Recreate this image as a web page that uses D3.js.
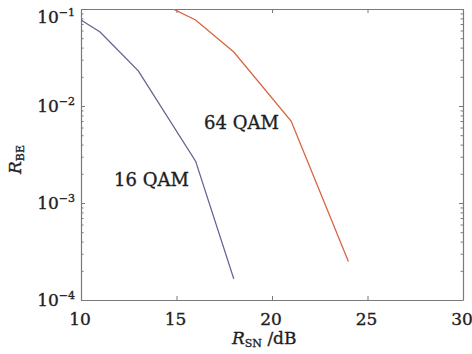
<!DOCTYPE html>
<html>
<head>
<meta charset="utf-8">
<script src="https://cdn.jsdelivr.net/npm/d3@7"></script>
<style>
  html, body { margin: 0; padding: 0; background: #fff; }
  svg { display: block; }
  text { font-family: "DejaVu Serif", "Liberation Serif", serif; fill: #1e1e1e; stroke: #1e1e1e; stroke-width: 0.35px; }
</style>
</head>
<body>
<svg id="chart" width="472" height="354"></svg>
<script>
// ---- data ----
const snr16 = [10, 11, 13, 16, 18];
const ber16 = [0.077, 0.058, 0.023, 0.0027, 0.000165];
const snr64 = [14, 16, 18, 21, 24];
const ber64 = [0.12, 0.077, 0.036, 0.007, 0.00025];
const seriesNames = ["16 QAM", "64 QAM"];
const xTicks = [10, 15, 20, 25, 30];
const yTickExps = [-1, -2, -3, -4];

// ---- layout ----
const svg = d3.select("#chart");
const L = 81, R = 463, T = 9, B = 300;
const x = d3.scaleLinear().domain([10, 30]).range([L, R]);
const y = d3.scaleLog().domain([1e-4, 1e-1]).range([B, T]);

const axisColor = "#7a7a7a";

// minor ticks values
const minor = [];
for (let e = -4; e < -1; e++) {
  for (let m = 2; m <= 9; m++) minor.push(m * Math.pow(10, e));
}
const major = yTickExps.map(e => Math.pow(10, e));

function styleAxis(g) {
  g.selectAll("path").attr("stroke", axisColor).attr("stroke-width", 1.2);
  g.selectAll("line").attr("stroke", axisColor).attr("stroke-width", 1);
  g.selectAll("text").remove();
}

// bottom / top
svg.append("g").attr("transform", `translate(0,${B})`)
  .call(d3.axisBottom(x).tickValues(xTicks).tickSize(-4).tickSizeOuter(0).tickFormat(""))
  .call(styleAxis);
svg.append("g").attr("transform", `translate(0,${T})`)
  .call(d3.axisTop(x).tickValues(xTicks).tickSize(-4).tickSizeOuter(0).tickFormat(""))
  .call(styleAxis);
// left / right major
svg.append("g").attr("transform", `translate(${L},0)`)
  .call(d3.axisLeft(y).tickValues(major).tickSize(-4).tickSizeOuter(0).tickFormat(""))
  .call(styleAxis);
svg.append("g").attr("transform", `translate(${R},0)`)
  .call(d3.axisRight(y).tickValues(major).tickSize(-4).tickSizeOuter(0).tickFormat(""))
  .call(styleAxis);
// minor
svg.append("g").attr("transform", `translate(${L},0)`)
  .call(d3.axisLeft(y).tickValues(minor).tickSize(-2.5).tickSizeOuter(0).tickFormat(""))
  .call(styleAxis).select("path").remove();
svg.append("g").attr("transform", `translate(${R},0)`)
  .call(d3.axisRight(y).tickValues(minor).tickSize(-2.5).tickSizeOuter(0).tickFormat(""))
  .call(styleAxis).select("path").remove();

// x tick labels
svg.append("g").selectAll("text").data(xTicks).join("text")
  .attr("x", d => x(d) - 1)
  .attr("y", B + 25)
  .attr("text-anchor", "middle")
  .attr("font-size", 17)
  .text(d => d);

// y tick labels
const yl = svg.append("g").selectAll("text").data(yTickExps).join("text")
  .attr("x", L - 6)
  .attr("y", (d, i) => y(Math.pow(10, d)) + (i === 0 ? 14 : 6))
  .attr("text-anchor", "end")
  .attr("font-size", 17);
yl.append("tspan").text("10");
yl.append("tspan").attr("font-size", 11).attr("dy", -7).text(d => "\u2212" + (-d));

// clip
svg.append("clipPath").attr("id", "clip").append("rect")
  .attr("x", L).attr("y", T).attr("width", R - L).attr("height", B - T);

const line = d3.line().x(d => x(d[0])).y(d => y(d[1]));
const d16 = snr16.map((s, i) => [s, ber16[i]]);
const d64 = snr64.map((s, i) => [s, ber64[i]]);

svg.append("path").datum(d16).attr("d", line)
  .attr("fill", "none").attr("stroke", "#6e5e8f").attr("stroke-width", 1.3)
  .attr("clip-path", "url(#clip)");
svg.append("path").datum(d64).attr("d", line)
  .attr("fill", "none").attr("stroke", "#d8643e").attr("stroke-width", 1.3)
  .attr("clip-path", "url(#clip)");

// series labels
svg.append("text").attr("x", 114).attr("y", 186).attr("font-size", 18).text(seriesNames[0]);
svg.append("text").attr("x", 204).attr("y", 129).attr("font-size", 18).text(seriesNames[1]);

// axis titles
const xt = svg.append("text").attr("x", 232).attr("y", 344).attr("font-size", 17);
xt.append("tspan").attr("font-style", "italic").text("R");
xt.append("tspan").attr("font-size", 11).attr("dy", 3).text("SN");
xt.append("tspan").attr("dy", -3).text(" /dB");

const yt = svg.append("text").attr("transform", "translate(21,174) rotate(-90)").attr("font-size", 17);
yt.append("tspan").attr("font-style", "italic").text("R");
yt.append("tspan").attr("font-size", 11).attr("dy", 3).text("BE");
</script>
</body>
</html>
